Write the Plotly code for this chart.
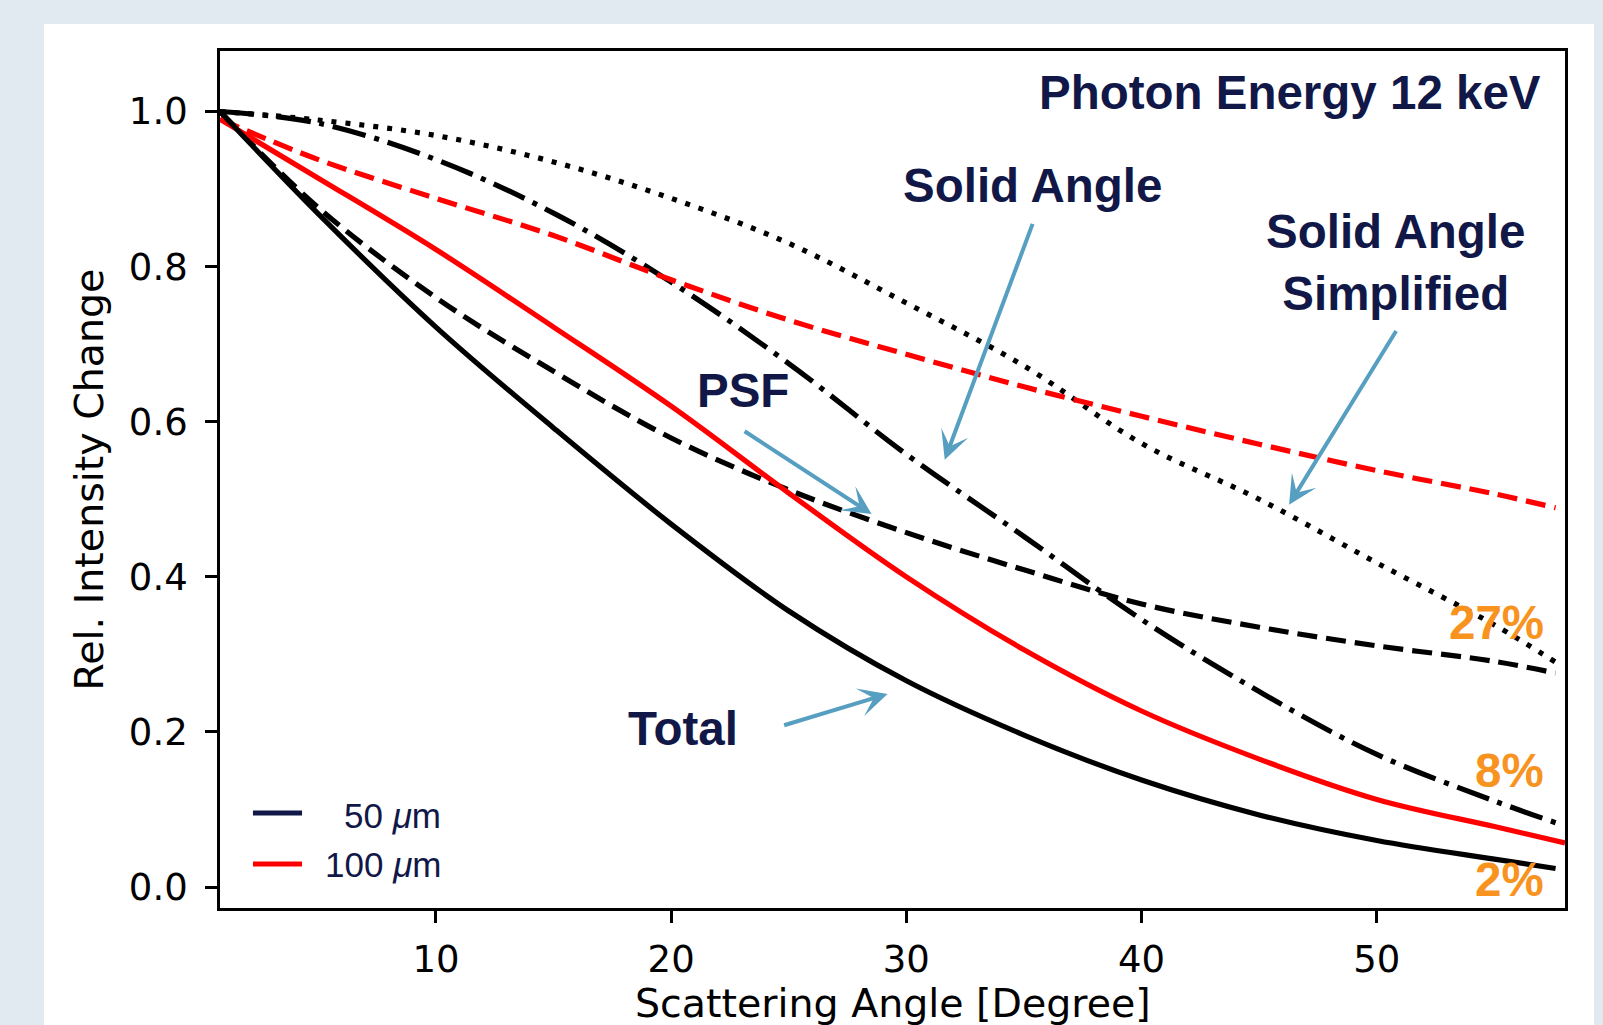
import plotly.graph_objects as go

# ---------------- data ----------------
angle = [0.82, 5, 10, 15, 20, 25, 30, 35, 40, 45, 50, 55, 57.6]
angle_red = [0.82, 5, 10, 15, 20, 25, 30, 35, 40, 45, 50, 55, 58.0]

total_50 = [1.0, 0.868, 0.722, 0.592, 0.468, 0.356, 0.266, 0.196, 0.138, 0.093, 0.060, 0.036, 0.024]
psf_50 = [1.0, 0.876, 0.760, 0.665, 0.579, 0.512, 0.457, 0.409, 0.365, 0.335, 0.311, 0.291, 0.276]
solid_angle = [1.0, 0.985, 0.938, 0.869, 0.780, 0.675, 0.558, 0.452, 0.345, 0.252, 0.171, 0.111, 0.083]
solid_angle_simpl = [1.0, 0.989, 0.969, 0.935, 0.888, 0.830, 0.753, 0.672, 0.572, 0.500, 0.418, 0.338, 0.290]
total_100 = [0.99, 0.914, 0.822, 0.722, 0.620, 0.508, 0.400, 0.306, 0.227, 0.165, 0.113, 0.078, 0.057]
psf_100 = [0.99, 0.938, 0.888, 0.840, 0.783, 0.731, 0.687, 0.645, 0.607, 0.571, 0.537, 0.507, 0.489]

x_ticks = [10, 20, 30, 40, 50]
y_ticks = [0.0, 0.2, 0.4, 0.6, 0.8, 1.0]

x_title = "Scattering Angle [Degree]"
y_title = "Rel. Intensity Change"
legend_labels = ["50 <i>\u03bc</i>m", "100 <i>\u03bc</i>m"]
legend_colors = ["#111847", "#ff0000"]
pct_labels = ["27%", "8%", "2%"]
pct_pos = [(57.19, 0.341), (57.19, 0.150), (57.19, 0.010)]

# label text and position
labels = [
    ("Solid Angle", 35.38, 0.904),
    ("Solid Angle<br>Simplified", 50.80, 0.805),
    ("PSF", 23.05, 0.640),
    ("Total", 20.50, 0.205),
]
# arrows: head x, head y, tail x, tail y
arrows = [
    (31.63, 0.551, 35.39, 0.857),
    (46.27, 0.493, 50.86, 0.719),
    (28.52, 0.481, 23.06, 0.589),
    (29.20, 0.249, 24.74, 0.208),
]

NAVY = "#111847"
ORANGE = "#f7931e"
ARROW = "#579fc1"
LW = 5.2

fig = go.Figure()

def add_line(x, y, color, dash):
    fig.add_trace(go.Scatter(x=x, y=y, mode="lines", showlegend=False,
                             line=dict(color=color, width=LW, dash=dash, shape="spline"),
                             hoverinfo="skip"))

add_line(angle, solid_angle_simpl, "black", "5px,9px")
add_line(angle, solid_angle, "black", "34px,9px,5px,9px")
add_line(angle, psf_100, "#ff0000", "20px,9px")
add_line(angle, psf_50, "black", "20px,9px")
add_line(angle_red, total_100, "#ff0000", "solid")
add_line(angle, total_50, "black", "solid")

annotations = []
annotations.append(dict(text="<b>Photon Energy 12 keV</b>", xref="paper", yref="paper",
                        x=0.9838, y=0.951, xanchor="right", yanchor="middle", showarrow=False,
                        font=dict(family="Liberation Sans", size=47.5, color=NAVY)))
for txt, lx, ly in labels:
    annotations.append(dict(text="<b>" + txt + "</b>", x=lx, y=ly, xref="x", yref="y",
                            showarrow=False, xanchor="center", yanchor="middle",
                            font=dict(family="Liberation Sans", size=47.5, color=NAVY)))
for hx, hy, tx, ty in arrows:
    annotations.append(dict(text="", x=hx, y=hy, xref="x", yref="y", ax=tx, ay=ty,
                            axref="x", ayref="y", showarrow=True, arrowhead=3,
                            arrowsize=1.2, arrowwidth=4, arrowcolor=ARROW))
for txt, (px, py) in zip(pct_labels, pct_pos):
    annotations.append(dict(text="<b>" + txt + "</b>", x=px, y=py, xref="x", yref="y",
                            showarrow=False, xanchor="right", yanchor="middle",
                            font=dict(family="Liberation Sans", size=47.5, color=ORANGE)))

# x-axis title placed as text below the axis (not constrained by the margin)
annotations.append(dict(text=x_title, xref="paper", yref="paper", x=0.5, y=-0.1105,
                        xanchor="center", yanchor="middle", showarrow=False,
                        font=dict(family="DejaVu Sans", size=39.5, color="black")))

# hand-made legend (swatch lines + labels) in the lower-left corner
legend_y_line = [0.1109, 0.0514]
legend_y_text = [0.1076, 0.0513]
shapes = [dict(type="rect", xref="paper", yref="paper", x0=-0.1309, x1=1.0216,
               y0=-0.3, y1=1.0315, fillcolor="white", line_width=0, layer="below")]
for lbl, col, yl, yt in zip(legend_labels, legend_colors, legend_y_line, legend_y_text):
    shapes.append(dict(type="line", xref="paper", yref="paper", x0=0.0245, x1=0.061,
                       y0=yl, y1=yl, line=dict(color=col, width=5)))
    annotations.append(dict(text=lbl, xref="paper", yref="paper", x=0.166, y=yt,
                            xanchor="right", yanchor="middle", showarrow=False,
                            font=dict(family="Liberation Sans", size=35, color=NAVY)))

axis_common = dict(showline=True, linecolor="black", linewidth=2.8, mirror=True,
                   ticks="outside", ticklen=12, tickwidth=2.8, tickcolor="black",
                   showgrid=False, zeroline=False, automargin=False,
                   tickfont=dict(family="DejaVu Sans", size=37, color="black"))

fig.update_layout(
    width=1603, height=1025,
    margin=dict(l=220, r=38, t=51, b=117),
    paper_bgcolor="#e1e9f1", plot_bgcolor="white",
    showlegend=False,
    shapes=shapes,
    xaxis=dict(range=[0.82, 58.0], tickvals=x_ticks, ticklabelstandoff=5,
               **axis_common),
    yaxis=dict(range=[-0.027, 1.078], tickvals=y_ticks, tickformat=".1f", ticklabelstandoff=10,
               title=dict(text=y_title, standoff=14,
                          font=dict(family="DejaVu Sans", size=39.5, color="black")),
               **axis_common),
    annotations=annotations,
)

fig.write_html("out.html")
